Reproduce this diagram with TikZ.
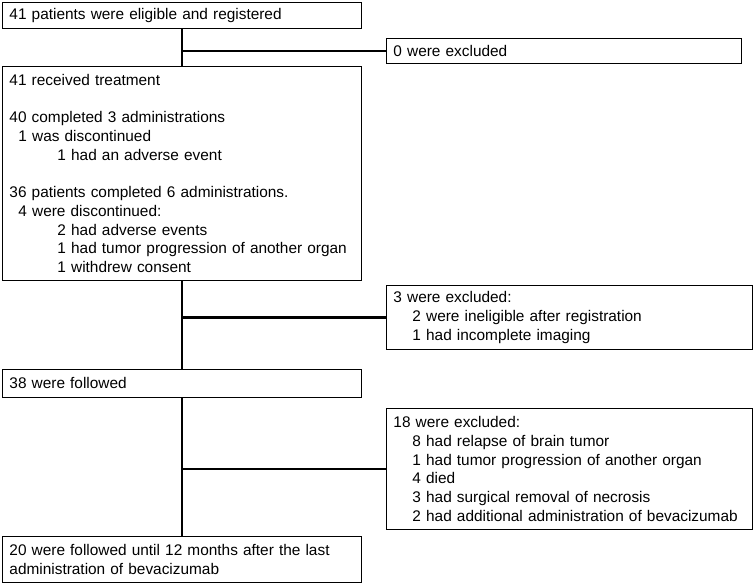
\documentclass[tikz,border=0pt]{standalone}
\usepackage{fontspec}
\setmainfont{Liberation Sans}
\usepackage{tikz}

\tikzset{
    flowbox/.style = {draw, line width=0.9pt, anchor=north west, align=left,
        inner xsep=7pt, inner ysep=0pt},
    trunk/.style = {line width=2.6pt}
}
\newcommand{\inda}{\hspace*{9pt}}
\newcommand{\indb}{\hspace*{48pt}}
\newcommand{\indx}{\hspace*{19pt}}

\begin{document}
\begin{tikzpicture}[x=1pt, y=-1pt, font=\fontsize{15.4}{18.7}\selectfont]
    \useasboundingbox (0,0) rectangle (754,583);

    % main column
    \node[flowbox, minimum width=359pt, minimum height=26pt, text width=345pt]
    (reg) at (2,2) {41 patients were eligible and registered};

    \node[flowbox, minimum width=359pt, minimum height=214pt, text width=345pt]
    (treat) at (2,66) {41 received treatment\\[18.7pt]
        40 completed 3 administrations\\
        \inda 1 was discontinued\\
        \indb 1 had an adverse event\\[18.7pt]
        36 patients completed 6 administrations.\\
        \inda 4 were discontinued:\\
        \indb 2 had adverse events\\
        \indb 1 had tumor progression of another organ\\
        \indb 1 withdrew consent};

    \node[flowbox, minimum width=359pt, minimum height=28pt, text width=345pt]
    (fol) at (2,369) {38 were followed};

    \node[flowbox, minimum width=359pt, minimum height=46pt, text width=345pt]
    (fin) at (2,536) {20 were followed until 12 months after the last\\
        administration of bevacizumab};

    % exclusions
    \node[flowbox, minimum width=355pt, minimum height=25pt, text width=341pt]
    (exclA) at (386,38) {0 were excluded};

    \node[flowbox, minimum width=366pt, minimum height=64pt, text width=352pt]
    (exclB) at (386,285) {3 were excluded:\\
        \indx 2 were ineligible after registration\\
        \indx 1 had incomplete imaging};

    \node[flowbox, minimum width=366pt, minimum height=121pt, text width=352pt]
    (exclC) at (386,408) {18 were excluded:\\
        \indx 8 had relapse of brain tumor\\
        \indx 1 had tumor progression of another organ\\
        \indx 4 died\\
        \indx 3 had surgical removal of necrosis\\
        \indx 2 had additional administration of bevacizumab};

    \draw[trunk] (reg.south) -- (treat.north);
    \draw[trunk] (treat.south) -- (fol.north);
    \draw[trunk] (fol.south) -- (fin.north);

    \draw[trunk] (reg.south |- exclA.west) -- (exclA.west);
    \draw[trunk] (treat.south |- exclB.west) -- (exclB.west);
    \draw[trunk] (fol.south |- exclC.west) -- (exclC.west);
\end{tikzpicture}
\end{document}
